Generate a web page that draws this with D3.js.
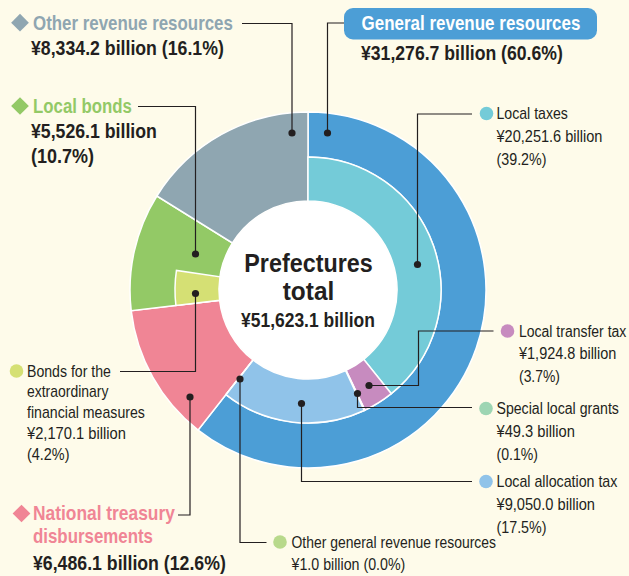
<!DOCTYPE html>
<html>
<head>
<meta charset="utf-8">
<script src="https://cdn.jsdelivr.net/npm/d3@7"></script>
<style>
  body { margin: 0; background: #fefbea; }
  svg { display: block; }
  text { font-family: "Liberation Sans", Arial, "DejaVu Sans Condensed", sans-serif; fill: #231f20; }
</style>
</head>
<body>
<svg id="chart" width="629" height="576"></svg>
<script>
// main categories (outer ring), billion yen
const mainNames  = ["General revenue resources", "National treasury disbursements", "Local bonds", "Other revenue resources"];
const mainValues = [31276.7, 6486.1, 5526.1, 8334.2];
const mainPct    = ["60.6%", "12.6%", "10.7%", "16.1%"];
const mainColors = ["#4c9ed6", "#f08595", "#93c966", "#8fa6b1"];

// breakdown (inner ring), same order round the circle
const subNames  = ["Local taxes", "Local transfer tax", "Special local grants", "Local allocation tax",
                   "Other general revenue resources", "National treasury disbursements",
                   "Bonds for the extraordinary financial measures", "Local bonds (other)", "Other revenue resources"];
const subValues = [20251.6, 1924.8, 49.3, 9050.0, 1.0, 6486.1, 2170.1, 3356.0, 8334.2];
const subPct    = ["39.2%", "3.7%", "0.1%", "17.5%", "0.0%", "12.6%", "4.2%", "6.5%", "16.1%"];
const subColors = ["#74cbd8", "#c78bbf", "#9dd5b3", "#90c3e9", "#b8d98b", "#f08595", "#d5e074", "#93c966", "#8fa6b1"];
const subShown  = [true, true, true, true, true, false, true, false, false];

const totalLabel = "¥51,623.1 billion";

const svg = d3.select("#chart");
const cx = 308, cy = 290;
const rHole = 89, rMid = 133, rOut = 178;

const pie = d3.pie().sort(null).value(d => d);
const mainArcs = pie(mainValues);
const subArcs = pie(subValues);

const g = svg.append("g").attr("transform", `translate(${cx},${cy})`);

// outer ring: general keeps the outer band only, the others go down to the hole
g.selectAll(".main")
  .data(mainArcs)
  .enter().append("path")
    .attr("class", "main")
    .attr("d", (d, i) => d3.arc().innerRadius(i === 0 ? rMid : rHole).outerRadius(rOut)(d))
    .style("fill", (d, i) => mainColors[i])
    .style("stroke", "#fff")
    .style("stroke-width", 1.5);

g.selectAll(".sub")
  .data(subArcs.filter((d, i) => subShown[i]))
  .enter().append("path")
    .attr("class", "sub")
    .attr("d", d3.arc().innerRadius(rHole).outerRadius(rMid))
    .style("fill", d => subColors[d.index])
    .style("stroke", "#fff")
    .style("stroke-width", 1.5);

g.append("circle").attr("r", rHole - 0.5).style("fill", "#fff");

const ink = "#231f20";

// text squeezed horizontally to the width it has in the original (condensed face)
function txt(x, y, str, opt) {
  const t = svg.append("text")
    .style("font-size", opt.size + "px")
    .style("font-weight", opt.bold ? "bold" : "normal")
    .style("fill", opt.color || ink)
    .text(str);
  const natural = t.node().getComputedTextLength();
  const k = opt.w ? opt.w / natural : 1;
  let x0 = x;
  if (opt.anchor === "middle") x0 = x - natural * k / 2;
  t.attr("transform", `translate(${x0},${y}) scale(${k},1)`);
  return t;
}

// centre
txt(cx + 0.5, 271.5, "Prefectures", { size: 26.5, bold: true, w: 128.5, anchor: "middle" });
txt(cx + 0.5, 300, "total", { size: 26.5, bold: true, w: 51.5, anchor: "middle" });
txt(cx, 326.5, totalLabel, { size: 19.5, bold: true, w: 134, anchor: "middle" });

// leader lines
function leader(points) {
  svg.append("path").attr("d", d3.line()(points))
    .style("fill", "none").style("stroke", ink).style("stroke-width", 1.2);
  const p = points[points.length - 1];
  svg.append("circle").attr("cx", p[0]).attr("cy", p[1]).attr("r", 3.6).style("fill", ink);
}

const fmt = v => "¥" + d3.format(",.1f")(v) + " billion";

function diamond(x, y, color) {
  svg.append("path").attr("d", d3.symbol(d3.symbolDiamond2, 200)())
    .attr("transform", `translate(${x},${y})`).style("fill", color);
}
const B = 20;

// Other revenue resources
diamond(20, 22.7, mainColors[3]);
txt(33, 29.5, mainNames[3], { size: B, bold: true, color: mainColors[3], w: 200 });
txt(31, 55, `${fmt(mainValues[3])} (${mainPct[3]})`, { size: B, bold: true, w: 193 });
leader([[242, 23.5], [292, 23.5], [292, 133]]);

// Local bonds
diamond(20, 106, mainColors[2]);
txt(33, 113, mainNames[2], { size: B, bold: true, color: mainColors[2], w: 99 });
txt(31, 137.5, fmt(mainValues[2]), { size: B, bold: true, w: 126 });
txt(31, 163, `(${mainPct[2]})`, { size: B, bold: true, w: 63 });
leader([[138, 106.5], [195.5, 106.5], [195.5, 254]]);

// General revenue resources
svg.append("rect").attr("x", 344).attr("y", 8).attr("width", 253).attr("height", 31.5)
  .attr("rx", 9).style("fill", mainColors[0]);
txt(361.5, 30, mainNames[0], { size: B, bold: true, color: "#fff", w: 219 });
txt(361, 60, `${fmt(mainValues[0])} (${mainPct[0]})`, { size: B, bold: true, w: 202 });
leader([[344, 23], [327.5, 23], [327.5, 133]]);

// National treasury disbursements
diamond(21.5, 513.5, mainColors[1]);
txt(33, 520, "National treasury", { size: B, bold: true, color: mainColors[1], w: 142 });
txt(33, 543, "disbursements", { size: B, bold: true, color: mainColors[1], w: 120 });
txt(33, 570, `${fmt(mainValues[1])} (${mainPct[1]})`, { size: B, bold: true, w: 193 });
leader([[178, 515], [190, 515], [190, 397]]);

// sub labels: [text, width]
function subLabel(i, cxDot, cyDot, tx, lines, step) {
  svg.append("circle").attr("cx", cxDot).attr("cy", cyDot).attr("r", 6.8).style("fill", subColors[i]);
  lines.forEach((l, k) => txt(tx, cyDot + 5.5 + k * step, l[0], { size: 16, w: l[1] }));
}
const lh = 22.8;

subLabel(0, 486.5, 113.5, 496.5, [[subNames[0], 71.5], [fmt(subValues[0]), 106], [`(${subPct[0]})`, 50]], lh);
leader([[472, 114], [417.5, 114], [417.5, 264.5]]);

subLabel(1, 507.5, 331, 519, [[subNames[1], 107.5], [fmt(subValues[1]), 97.5], [`(${subPct[1]})`, 41]], lh);
leader([[493.5, 331], [418.5, 331], [418.5, 385.5], [369, 385.5]]);

subLabel(2, 486, 408.5, 496.5, [[subNames[2], 122.5], [fmt(subValues[2]), 78.5], [`(${subPct[2]})`, 41.5]], lh);
leader([[472, 407.5], [357.5, 407.5], [357.5, 393.5]]);

subLabel(3, 486, 481.5, 496.5, [[subNames[3], 121], [fmt(subValues[3]), 98.5], [`(${subPct[3]})`, 50]], lh);
leader([[472, 481.5], [301.5, 481.5], [301.5, 403.5]]);

subLabel(4, 280, 542, 291.5, [[subNames[4], 204.5], [`${fmt(subValues[4])} (${subPct[4]})`, 114]], lh);
leader([[266.5, 542.5], [240, 542.5], [240, 379]]);

subLabel(6, 16.5, 371, 27, [["Bonds for the", 84], ["extraordinary", 81.5], ["financial measures", 118],
  [fmt(subValues[6]), 99], [`(${subPct[6]})`, 42.5]], 20.8);
leader([[120, 371.5], [195.5, 371.5], [195.5, 293.5]]);
</script>
</body>
</html>
